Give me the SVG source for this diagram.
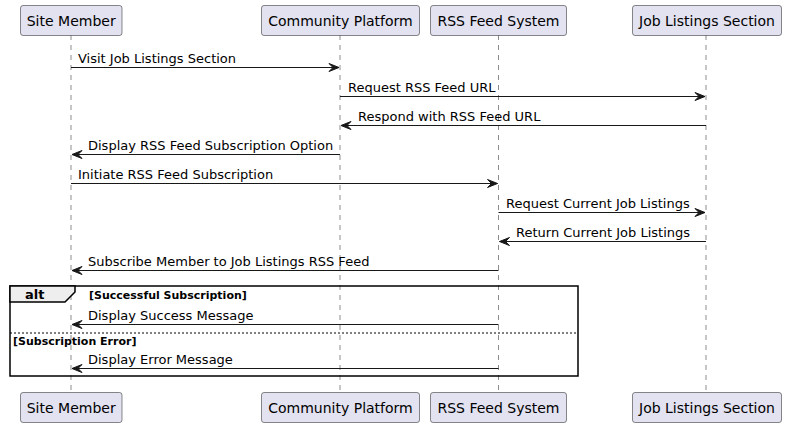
<svg xmlns="http://www.w3.org/2000/svg" width="787" height="427" viewBox="0 0 787 427">
<defs>
<style>
.pbox{fill:#E2E2F0;stroke:#181818;stroke-width:0.5}
.ptxt{font-family:"DejaVu Sans",sans-serif;font-size:14px;fill:#000;text-anchor:middle}
.life{stroke:#181818;stroke-width:0.5;stroke-dasharray:5,5;fill:none}
.msg{stroke:#181818;stroke-width:1;fill:none}
.head{fill:#181818;stroke:#181818;stroke-width:1}
.mtxt{font-family:"DejaVu Sans",sans-serif;font-size:13px;fill:#000}
.guard{font-family:"DejaVu Sans",sans-serif;font-size:11px;font-weight:bold;fill:#000}
</style>
</defs>
<rect width="787" height="427" fill="#FFFFFF"/>
<g id="lifelines">
<line class="life" x1="71" y1="35" x2="71" y2="393"/>
<line class="life" x1="340" y1="35" x2="340" y2="393"/>
<line class="life" x1="498.5" y1="35" x2="498.5" y2="393"/>
<line class="life" x1="706" y1="35" x2="706" y2="393"/>
</g>
<g id="site-member">
<rect class="pbox" x="20.5" y="5.5" width="101.5" height="30" rx="2.5"/>
<text class="ptxt" x="71.2" y="25.5">Site Member</text>
<rect class="pbox" x="20.5" y="392.5" width="101.5" height="30" rx="2.5"/>
<text class="ptxt" x="71.2" y="412.5">Site Member</text>
</g>
<g id="community-platform">
<rect class="pbox" x="261.5" y="5.5" width="158" height="30" rx="2.5"/>
<text class="ptxt" x="340.5" y="25.5">Community Platform</text>
<rect class="pbox" x="261.5" y="392.5" width="158" height="30" rx="2.5"/>
<text class="ptxt" x="340.5" y="412.5">Community Platform</text>
</g>
<g id="rss-feed-system">
<rect class="pbox" x="430.5" y="5.5" width="136" height="30" rx="2.5"/>
<text class="ptxt" x="498.5" y="25.5">RSS Feed System</text>
<rect class="pbox" x="430.5" y="392.5" width="136" height="30" rx="2.5"/>
<text class="ptxt" x="498.5" y="412.5">RSS Feed System</text>
</g>
<g id="job-listings-section">
<rect class="pbox" x="632.5" y="5.5" width="149" height="30" rx="2.5"/>
<text class="ptxt" x="707" y="25.5">Job Listings Section</text>
<rect class="pbox" x="632.5" y="392.5" width="149" height="30" rx="2.5"/>
<text class="ptxt" x="707" y="412.5">Job Listings Section</text>
</g>
<g id="alt-fragment">
<rect x="10" y="286" width="568" height="90" fill="none" stroke="#000" stroke-width="1.5"/>
<polygon points="10,286 75,286 75,292 65,302 10,302" fill="#EEEEEE" stroke="#000" stroke-width="1.5"/>
<text x="25" y="298.5" font-family="DejaVu Sans,sans-serif" font-size="13" font-weight="bold">alt</text>
<text class="guard" x="89" y="299">[Successful Subscription]</text>
<line x1="10" y1="333" x2="578" y2="333" stroke="#000" stroke-width="1" stroke-dasharray="2,2"/>
<text class="guard" x="13" y="344.5">[Subscription Error]</text>
</g>
<g id="connectors">
<line class="msg" x1="71" y1="67.5" x2="339" y2="67.5"/>
<polygon class="head" points="329,63.5 339,67.5 329,71.5 333,67.5"/>
<text class="mtxt" x="78" y="62.5">Visit Job Listings Section</text>

<line class="msg" x1="340" y1="96.5" x2="705" y2="96.5"/>
<polygon class="head" points="695,92.5 705,96.5 695,100.5 699,96.5"/>
<text class="mtxt" x="348" y="91.5">Request RSS Feed URL</text>

<line class="msg" x1="341" y1="125.5" x2="706" y2="125.5"/>
<polygon class="head" points="351,121.5 341,125.5 351,129.5 347,125.5"/>
<text class="mtxt" x="358" y="120.5">Respond with RSS Feed URL</text>

<line class="msg" x1="72" y1="154.5" x2="340" y2="154.5"/>
<polygon class="head" points="82,150.5 72,154.5 82,158.5 78,154.5"/>
<text class="mtxt" x="88" y="149.5">Display RSS Feed Subscription Option</text>

<line class="msg" x1="71" y1="183.5" x2="497.5" y2="183.5"/>
<polygon class="head" points="487.5,179.5 497.5,183.5 487.5,187.5 491.5,183.5"/>
<text class="mtxt" x="78" y="178.5">Initiate RSS Feed Subscription</text>

<line class="msg" x1="498.5" y1="212.5" x2="705" y2="212.5"/>
<polygon class="head" points="695,208.5 705,212.5 695,216.5 699,212.5"/>
<text class="mtxt" x="506" y="207.5">Request Current Job Listings</text>

<line class="msg" x1="499.5" y1="241.5" x2="706" y2="241.5"/>
<polygon class="head" points="509.5,237.5 499.5,241.5 509.5,245.5 505.5,241.5"/>
<text class="mtxt" x="516" y="236.5">Return Current Job Listings</text>

<line class="msg" x1="72" y1="270.5" x2="498.5" y2="270.5"/>
<polygon class="head" points="82,266.5 72,270.5 82,274.5 78,270.5"/>
<text class="mtxt" x="88" y="265.5">Subscribe Member to Job Listings RSS Feed</text>

<line class="msg" x1="72" y1="324.5" x2="498.5" y2="324.5"/>
<polygon class="head" points="82,320.5 72,324.5 82,328.5 78,324.5"/>
<text class="mtxt" x="88" y="319.5">Display Success Message</text>

<line class="msg" x1="72" y1="368.5" x2="498.5" y2="368.5"/>
<polygon class="head" points="82,364.5 72,368.5 82,372.5 78,368.5"/>
<text class="mtxt" x="88" y="363.5">Display Error Message</text>
</g>
</svg>
